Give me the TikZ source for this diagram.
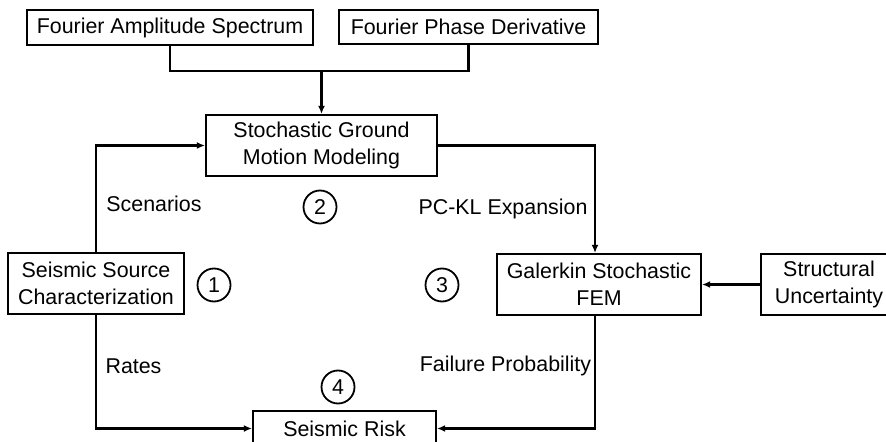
\documentclass[tikz,border=0pt]{standalone}
\usepackage{fontspec}
\setmainfont{Liberation Sans}
\usetikzlibrary{arrows.meta}

\begin{document}
\begin{tikzpicture}[x=0.5pt, y=-0.5pt, font=\fontsize{10.7}{13.5}\selectfont]
    % Define styles
    \tikzstyle{block} = [rectangle, draw, line width=1.1pt, align=center, inner sep=0pt, minimum height=30.5pt]
    \tikzstyle{line} = [draw, line width=1.1pt, -{Latex[length=4pt,width=3.5pt]}]
    \tikzstyle{stage} = [circle, draw, line width=0.9pt, minimum size=16.5pt, inner sep=0pt]
    \useasboundingbox (0,0) rectangle (886,442);

    % Nodes
    \node [block, minimum width=143pt, minimum height=17.5pt] (amp) at (170,27.5) {Fourier Amplitude Spectrum};
    \node [block, minimum width=129.5pt, minimum height=17pt] (phase) at (468.5,27) {Fourier Phase Derivative};
    \node [block, minimum width=115.5pt] (ground) at (321.5,145.5) {Stochastic Ground\\Motion Modeling};
    \node [block, minimum width=88pt] (source) at (96,283.5) {Seismic Source\\Characterization};
    \node [block, minimum width=102pt] (galerkin) at (599,284.5) {Galerkin Stochastic\\FEM};
    \node [block, minimum width=68pt] (struct) at (829,284.5) {Structural\\Uncertainty};
    \node [block, minimum width=91.5pt, minimum height=17.5pt] (risk) at (344.5,428.5) {Seismic Risk};
    \coordinate (merge) at (321.5,71);

    % Labels
    \node (scen) at (154,204) {Scenarios};
    \node (pckl) at (503,209) {PC-KL Expansion};
    \node (rates) at (133.5,366) {Rates};
    \node (fail) at (505.5,366) {Failure Probability};
    \node [stage] (s1) at (214,285) {1};
    \node [stage] (s2) at (320,207) {2};
    \node [stage] (s3) at (442,285) {3};
    \node [stage] (s4) at (338,387) {4};

    % Connections
    \draw [line width=1.1pt] (amp.south) |- (merge) -| (phase.south);
    \path [line] (merge) -- (ground.north);
    \path [line] (source.north) |- (ground.west);
    \path [line] (ground.east) -| ([xshift=-2pt]galerkin.north);
    \path [line] (struct.west) -- (galerkin.east);
    \path [line] (source.south) |- (risk.west);
    \path [line] ([xshift=-2pt]galerkin.south) |- (risk.east);
\end{tikzpicture}
\end{document}
